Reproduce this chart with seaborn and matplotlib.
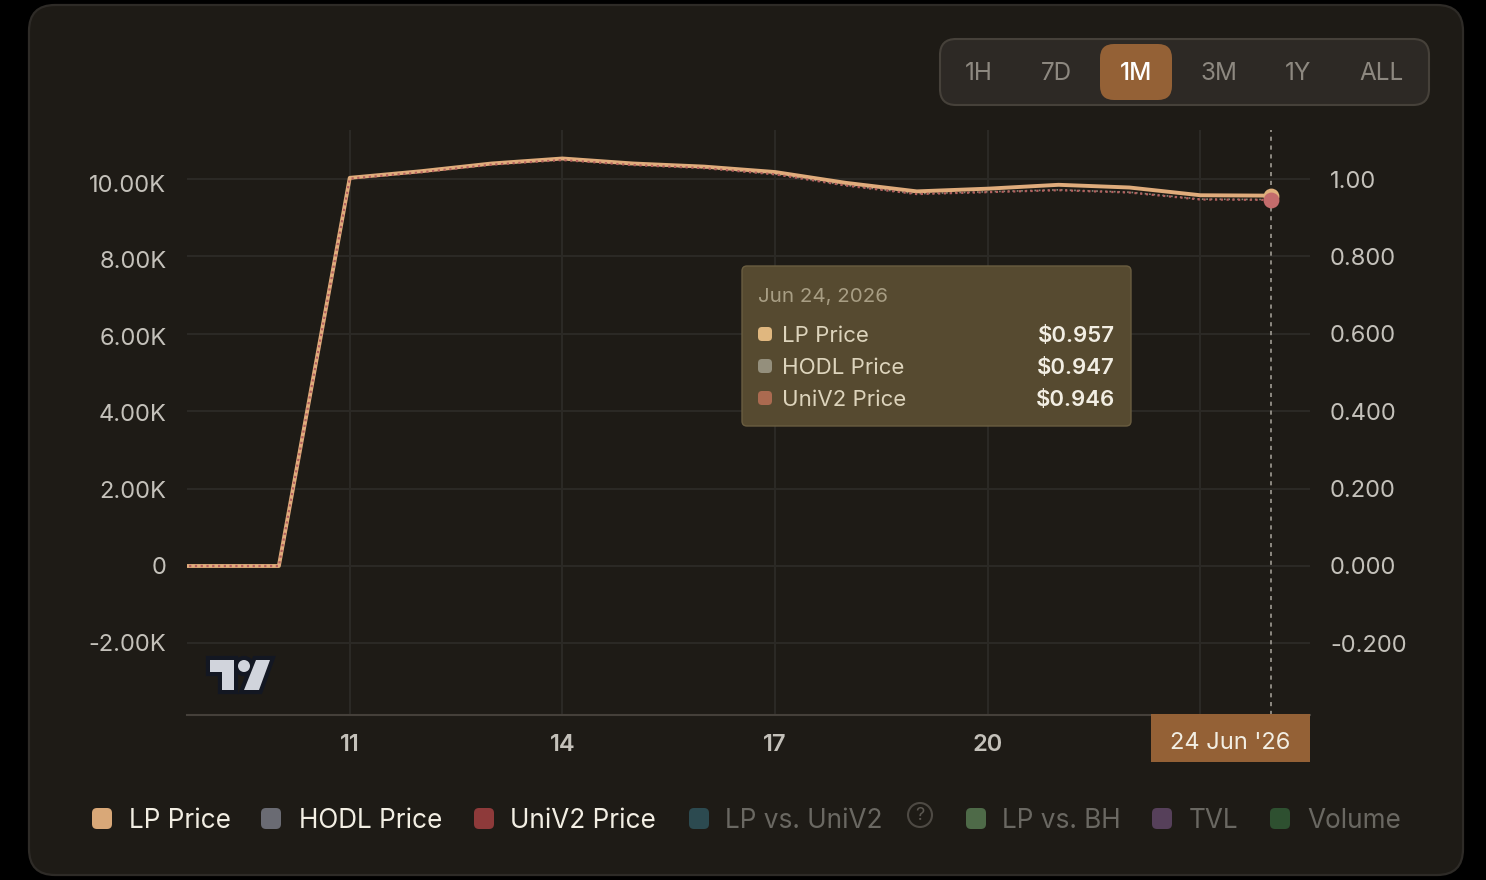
import matplotlib
matplotlib.use("Agg")
import matplotlib.pyplot as plt
from matplotlib.patches import FancyBboxPatch, Polygon, Circle
import seaborn as sns
import pandas as pd

# Price history, one entry per day of June 2026
days = [8, 9, 10, 11, 12, 13, 14, 15, 16, 17, 18, 19, 20, 21, 22, 23, 24]
lp_price = [0, 0, 0, 1.003, 1.020, 1.040, 1.053, 1.040, 1.032, 1.018, 0.990, 0.968,
            0.975, 0.985, 0.978, 0.958, 0.957]
hodl_price = [0, 0, 0, 1.002, 1.018, 1.038, 1.050, 1.037, 1.029, 1.013, 0.984, 0.962,
              0.967, 0.972, 0.966, 0.948, 0.947]
univ2_price = [0, 0, 0, 1.001, 1.017, 1.037, 1.049, 1.036, 1.028, 1.012, 0.983, 0.961,
               0.966, 0.971, 0.965, 0.947, 0.946]

price_ticks = [-0.2, 0.0, 0.2, 0.4, 0.6, 0.8, 1.0]
price_labels = ["-0.200", "0.000", "0.200", "0.400", "0.600", "0.800", "1.00"]
usd_ticks = [-2000, 0, 2000, 4000, 6000, 8000, 10000]
usd_labels = ["-2.00K", "0", "2.00K", "4.00K", "6.00K", "8.00K", "10.00K"]
day_ticks = [11, 14, 17, 20, 23]
day_labels = ["11", "14", "17", "20", ""]

ranges = ["1H", "7D", "1M", "3M", "1Y", "ALL"]
range_x = [979, 1056, 1136, 1219, 1298, 1382]

legend_names = ["LP Price", "HODL Price", "UniV2 Price", "LP vs. UniV2", "LP vs. BH", "TVL", "Volume"]
legend_colors = ["#D9A878", "#6A6B73", "#8E3A3A", "#2C4A50", "#4E6A48", "#56405A", "#2E5030"]
legend_swatch_x = [92, 261, 474, 689, 966, 1152, 1270]
legend_text_x = [129, 299, 510, 725, 1002, 1189, 1307]

tooltip_names = ["LP Price", "HODL Price", "UniV2 Price"]
tooltip_values = ["$0.957", "$0.947", "$0.946"]
tooltip_colors = ["#E0B77F", "#948F7C", "#AB6A50"]

W, H = 1486, 880
sns.set_theme(style="dark")
plt.rcParams["font.family"] = ["Inter", "DejaVu Sans"]

BG = "#1E1B16"
GRID = "#2B2925"
TICK = "#C4C1BA"
CREAM = "#F2EEE3"

fig = plt.figure(figsize=(W / 100, H / 100), dpi=100, facecolor="#000000")


def px_axes(zorder):
    a = fig.add_axes([0, 0, 1, 1], zorder=zorder)
    a.set_xlim(0, W)
    a.set_ylim(H, 0)
    a.axis("off")
    a.patch.set_alpha(0)
    return a


def round_box(a, x0, y0, x1, y1, r, fc, ec="none", lw=0, z=1):
    a.add_patch(FancyBboxPatch((x0 + r, y0 + r), x1 - x0 - 2 * r, y1 - y0 - 2 * r,
                               boxstyle=f"round,pad={r},rounding_size={r}",
                               fc=fc, ec=ec, lw=lw, zorder=z))


# Card behind the chart
under = px_axes(0)
round_box(under, 29, 5, 1463, 875, 26, BG, ec="#2E2B27", lw=1.6)

# Plot area, with the price scale on the right
left, right, top, bottom = 186.5, 1310, 130, 714.5
ax = fig.add_axes([left / W, 1 - bottom / H, (right - left) / W, (bottom - top) / H], zorder=1)
ax.patch.set_alpha(0)
price_min, price_max = (566 - bottom) / 387, (566 - top) / 387

frame = pd.DataFrame({"day": days, "LP Price": lp_price, "HODL Price": hodl_price, "UniV2 Price": univ2_price})
sns.lineplot(data=frame, x="day", y="HODL Price", ax=ax, color="#8A8778", lw=1.2, ls=":", zorder=3)
sns.lineplot(data=frame, x="day", y="LP Price", ax=ax, color="#E0AC7C", lw=2.8, zorder=4)
sns.lineplot(data=frame, x="day", y="UniV2 Price", ax=ax, color="#B4605E", lw=1.6, ls=(0, (1, 1.6)), zorder=5)

ax.axvline(24, color="#A09C94", lw=1.2, ls=(0, (2.5, 2.8)), zorder=2)
ax.scatter([days[-1]], [lp_price[-1]], s=130, color="#E0B07C", zorder=6, linewidths=0, clip_on=False)
ax.scatter([days[-1]], [univ2_price[-1]], s=130, color="#C46C6C", zorder=7, linewidths=0, clip_on=False)

ax.set_xlim(8.697, 24.547)
ax.set_ylim(price_min, price_max)
ax.set_xticks(day_ticks, day_labels)
ax.set_yticks(price_ticks, price_labels)
ax.set_xlabel("")
ax.set_ylabel("")
ax.grid(True, color=GRID, lw=1.5)
ax.set_axisbelow(True)
ax.tick_params(axis="x", length=0, pad=14, labelsize=17, labelcolor=TICK)
for lab in ax.get_xticklabels():
    lab.set_fontweight("semibold")
for name, spine in ax.spines.items():
    spine.set_visible(name == "bottom")
ax.spines["bottom"].set_color("#45403A")
ax.spines["bottom"].set_linewidth(1.5)

# Dollar scale on the left has its own, slightly tighter, vertical range
ax_usd = ax.twinx()
ax_usd.patch.set_alpha(0)
ax_usd.set_ylim((566 - bottom) / 383 * 10000, (566 - top) / 383 * 10000)
ax_usd.set_yticks(usd_ticks, usd_labels)
ax_usd.yaxis.tick_left()
ax_usd.grid(False)
ax_usd.tick_params(axis="y", length=0, pad=14.4, labelsize=17, labelcolor=TICK)
for spine in ax_usd.spines.values():
    spine.set_visible(False)

# twinx moves the primary ticks to the left, so send them back to the right
ax.yaxis.tick_right()
ax.tick_params(axis="y", length=0, pad=14.4, labelsize=17, labelcolor=TICK)

# Controls, tooltip and legend on top of the plot
over = px_axes(5)

round_box(over, 940, 39, 1429, 105, 16, "#2D2925", ec="#46413A", lw=1.5)
round_box(over, 1100, 44, 1172, 100, 14, "#946136")
for label, x in zip(ranges, range_x):
    active = label == "1M"
    over.text(x, 74, label, ha="center", va="center", fontsize=17.5, zorder=3,
              color="#FFFFFF" if active else "#8D8880",
              fontweight="medium" if active else "normal")

# Tooltip
round_box(over, 742, 266, 1131, 426, 5, "#564A30", ec="#6A5D40", lw=1)
over.text(758, 297, "Jun 24, 2026", ha="left", va="center", fontsize=14.8, color="#A89E84", zorder=3)
for i, (name, val, col) in enumerate(zip(tooltip_names, tooltip_values, tooltip_colors)):
    y = 334 + 32 * i
    round_box(over, 758, y - 7, 772, y + 7, 4, col, z=3)
    over.text(782, y + 2, name, ha="left", va="center", fontsize=16, color="#DDD4BC", zorder=3)
    over.text(1115, y + 2, val, ha="right", va="center", fontsize=16, color=CREAM, fontweight="semibold", zorder=3)

# Date flag on the time axis
over.add_patch(plt.Rectangle((1151, 714), 159, 48, fc="#946136", ec="none"))
over.text(1230, 743, "24 Jun '26", ha="center", va="center", fontsize=17, color=CREAM)

# Attribution logo
logo_ink = "#D1D4DC"
logo_edge = "#131722"


def logo_shapes():
    return [
        Polygon([(210, 660), (234, 660), (234, 690), (222, 690), (222, 672), (210, 672)], closed=True),
        Polygon([(256, 660), (270, 660), (259, 690), (244, 690)], closed=True),
        Circle((244, 666), 6),
    ]


for shape in logo_shapes():
    shape.set(fc=logo_edge, ec=logo_edge, lw=6, zorder=2)
    over.add_patch(shape)
for shape in logo_shapes():
    shape.set(fc=logo_ink, ec="none", zorder=3)
    over.add_patch(shape)

# Legend row; only the first three series are switched on
for i, (name, col, sx, tx) in enumerate(zip(legend_names, legend_colors, legend_swatch_x, legend_text_x)):
    round_box(over, sx, 808, sx + 20, 829, 5, col)
    over.text(tx, 821, name, ha="left", va="center", fontsize=18.85,
              color=CREAM if i < 3 else "#6A6862")
over.add_patch(Circle((920, 815), 12, fc="none", ec="#4E4A44", lw=1.5))
over.text(920, 816, "?", ha="center", va="center", fontsize=13, color="#5C5852")

fig.savefig("out.png", dpi=100, facecolor=fig.get_facecolor())
